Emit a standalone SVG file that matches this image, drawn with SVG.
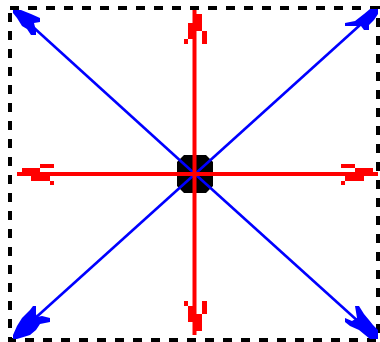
<svg xmlns="http://www.w3.org/2000/svg" width="380" height="342" viewBox="0 0 380 342">
<style>
.border{fill:none;stroke:#000;stroke-width:4;stroke-dasharray:9 9}
.blue{stroke:#0000ff;stroke-width:2.6;fill:none}
.bh{fill:#0000ff}
.red{stroke:#ff0000;stroke-width:4;fill:none}
.rh{fill:#ff0000}
</style>
<rect width="380" height="342" fill="#fff"/>
<rect class="border" x="10" y="8" width="368" height="332"/>
<g id="center">
<polygon points="184,155 206,155 213,162 213,186 206,193 184,193 177,186 177,162" fill="#000"/>
</g>
<g id="connectors">
<g id="arrow-tl">
<line class="blue" x1="195" y1="174" x2="22" y2="17"/>
<polygon class="bh" points="13,10 21,10 31,14 40,18 40,22 34,23 36,31 36,35 31,35 27,29 22,26 17,18 13,13"/>
</g>
<g id="arrow-bl">
<line class="blue" x1="195" y1="174" x2="22" y2="330"/>
<polygon class="bh" points="13,339 13,335 17,326 22,318 30,310 33,306 36,306 36,314 37,317 42,316 50,318 50,322 40,324 36,330 30,335 17,339"/>
</g>
<g id="arrow-tr">
<line class="blue" x1="195" y1="174" x2="370" y2="16"/>
<polygon class="bh" points="378,9 378,14 374,20 369,25 369,30 364,30 361,26 345,26 345,23 355,21 364,14 370,9"/>
</g>
<g id="arrow-br">
<line class="blue" x1="195" y1="174" x2="370" y2="332"/>
<polygon class="bh" points="378,339 370,339 359,330 350,326 345,322 345,318 352,321 357,318 355,306 359,306 364,314 369,320 373,325 378,330"/>
</g>
<g id="arrow-up">
<line class="red" x1="194.5" y1="174" x2="194.5" y2="10"/>
<rect class="rh" x="196" y="14" width="6" height="17"/>
<rect class="rh" x="188" y="23" width="8" height="16"/>
<rect class="rh" x="202" y="31" width="5" height="13"/>
<rect class="rh" x="184" y="39" width="4" height="5"/>
</g>
<g id="arrow-down">
<line class="red" x1="194.5" y1="174" x2="194.5" y2="335"/>
<rect class="rh" x="188" y="306" width="8" height="16"/>
<rect class="rh" x="196" y="314" width="6" height="17"/>
<rect class="rh" x="184" y="301" width="4" height="5"/>
<rect class="rh" x="202" y="301" width="5" height="13"/>
</g>
<g id="arrow-left">
<line class="red" x1="194.5" y1="174" x2="17" y2="174"/>
<rect class="rh" x="22" y="168" width="18" height="4"/>
<rect class="rh" x="31" y="176" width="19" height="5"/>
<rect class="rh" x="40" y="164" width="14" height="4"/>
<rect class="rh" x="50" y="181" width="4" height="4"/>
</g>
<g id="arrow-right">
<line class="red" x1="194.5" y1="174" x2="378" y2="174"/>
<rect class="rh" x="355" y="168" width="18" height="4"/>
<rect class="rh" x="345" y="176" width="19" height="5"/>
<rect class="rh" x="341" y="164" width="14" height="4"/>
<rect class="rh" x="341" y="181" width="4" height="4"/>
</g>
</g>
</svg>
